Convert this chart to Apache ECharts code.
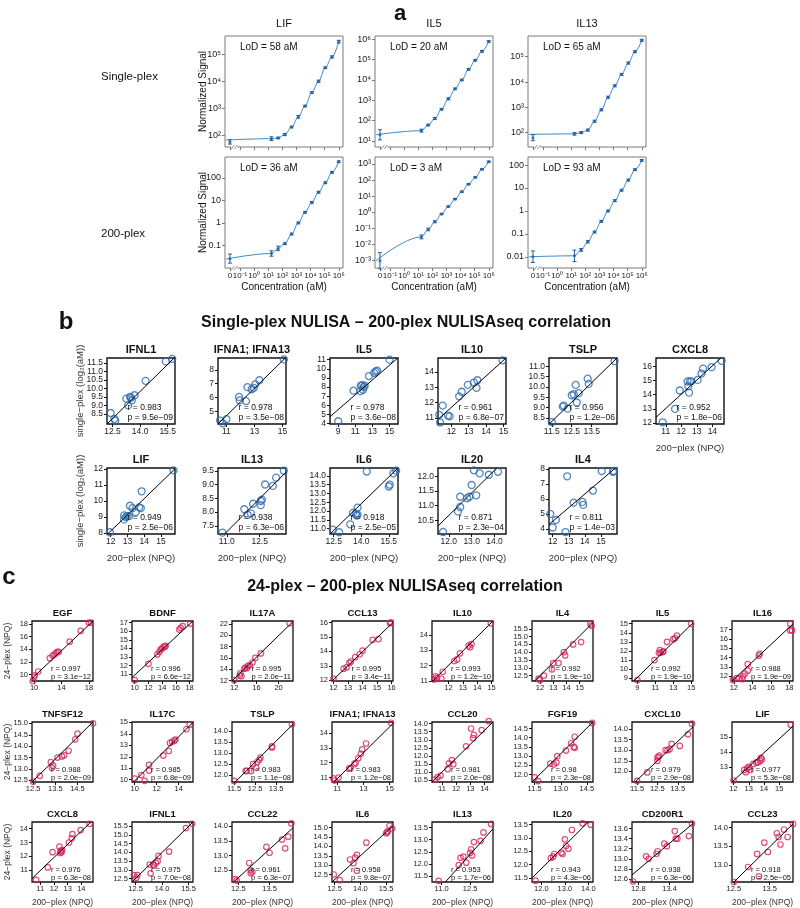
<!DOCTYPE html>
<html><head><meta charset="utf-8">
<script src="https://cdn.jsdelivr.net/npm/echarts@6/dist/echarts.min.js"></script>
<style>html,body{margin:0;padding:0;background:#fff}#c{width:800px;height:908px}</style>
</head><body><div id="c"></div>
<script>
const FONT = '"Liberation Sans", Arial, Helvetica, sans-serif';

// ================= Panel a data =================
const concA = [0, 17, 51, 152, 457, 1372, 4115, 12346, 37037, 111111, 333333, 1000000]; // aM
const aTargets = ['LIF', 'IL5', 'IL13'];
const aRows = ['Single-plex', '200-plex'];
const aLoD = [['LoD = 58 aM', 'LoD = 20 aM', 'LoD = 65 aM'], ['LoD = 36 aM', 'LoD = 3 aM', 'LoD = 93 aM']];
const sigLIF1 = [56, 74, 79, 105, 200, 480, 1200, 3800, 10000, 32000, 80000, 295000];
const sigIL5_1 = [20, 32, 60, 126, 363, 1175, 3630, 10000, 33000, 93000, 257000, 776000];
const sigIL13_1 = [63, 89, 100, 126, 282, 794, 2512, 7079, 19953, 56234, 158489, 446684];
const sigLIF200 = [0.026, 0.044, 0.074, 0.12, 0.32, 1.0, 2.95, 8.1, 23, 60, 174, 513];
const sigIL5_200 = [0.001, 0.030, 0.087, 0.26, 0.79, 2.3, 6.6, 19, 56, 148, 468, 1380];
const sigIL13_200 = [0.01, 0.011, 0.02, 0.045, 0.12, 0.35, 1.0, 2.8, 8, 22, 63, 160];
// error half-widths (log10 units)
const errLIF1 = [0.08, 0.07, 0.03, 0.04, 0.03, 0.05, 0.03, 0.03, 0.04, 0.03, 0.04, 0.05];
const errIL5_1 = [0.25, 0.07, 0.04, 0.05, 0.04, 0.05, 0.04, 0.04, 0.04, 0.04, 0.04, 0.04];
const errIL13_1 = [0.12, 0.05, 0.04, 0.04, 0.04, 0.04, 0.04, 0.04, 0.04, 0.04, 0.04, 0.04];
const errLIF200 = [0.2, 0.12, 0.1, 0.04, 0.04, 0.04, 0.04, 0.04, 0.04, 0.04, 0.04, 0.04];
const errIL5_200 = [0.5, 0.12, 0.08, 0.06, 0.04, 0.04, 0.04, 0.04, 0.04, 0.04, 0.04, 0.04];
const errIL13_200 = [0.25, 0.25, 0.06, 0.05, 0.04, 0.04, 0.04, 0.04, 0.04, 0.04, 0.04, 0.04];
// fitted-curve baseline (signal at the far left of the axis)
const curveBase = [[66, 20, 85], [0.025, 0.001, 0.01]];
// y tick exponents
const ytLIF1 = [2, 3, 4, 5], ytIL5_1 = [1, 2, 3, 4, 5, 6], ytIL13_1 = [2, 3, 4, 5];
const ytLIF200 = [-1, 0, 1, 2], ytIL5_200 = [-3, -2, -1, 0, 1, 2, 3], ytIL13_200 = [-2, -1, 0, 1, 2];
const xtExpA = [-1, 0, 1, 2, 3, 4, 5, 6];

// ================= Panel b data =================
const bNames = ['IFNL1', 'IFNA1; IFNA13', 'IL5', 'IL10', 'TSLP', 'CXCL8', 'LIF', 'IL13', 'IL6', 'IL20', 'IL4'];
const bR = ['0.983', '0.978', '0.978', '0.961', '0.956', '0.952', '0.949', '0.938', '0.918', '0.871', '0.811'];
const bP = ['9.5e\u221209', '3.5e\u221208', '3.6e\u221208', '6.8e\u221207', '1.2e\u221206', '1.8e\u221206', '2.5e\u221206', '6.3e\u221206', '2.5e\u221205', '2.3e\u221204', '1.4e\u221203'];
const b_IFNL1 = [[12.4,8.55],[12.6,8.2],[12.65,8.1],[13.25,9.4],[13.35,9.0],[13.45,9.5],[13.5,9.45],[13.55,9.3],[13.7,9.6],[14.3,10.45],[15.4,11.6],[15.75,11.75]];
const b_IFNA = [[10.55,4.35],[10.75,4.15],[11.0,4.45],[11.9,6.05],[11.95,5.8],[12.4,5.75],[12.5,6.75],[12.8,6.6],[12.95,6.7],[13.05,6.95],[13.35,7.25],[15.1,8.75]];
const b_IL5 = [[9.0,4.25],[10.8,7.6],[11.6,7.55],[11.65,8.15],[11.8,8.2],[11.9,7.7],[12.0,8.0],[12.1,8.15],[12.6,9.2],[13.2,9.55],[13.4,9.7],[13.55,9.8],[15.0,11.0]];
const b_IL10 = [[11.3,11.2],[11.35,10.7],[11.5,11.8],[11.8,11.15],[11.9,11.1],[12.45,12.4],[12.6,12.7],[12.95,13.15],[13.3,13.3],[13.45,12.95],[13.5,13.45],[14.95,14.75]];
const b_TSLP = [[11.5,8.3],[12.05,9.05],[12.1,9.1],[12.3,8.95],[12.5,9.6],[12.6,9.65],[12.7,10.1],[12.75,9.25],[12.85,9.7],[13.3,10.4],[13.35,10.15],[14.65,11.25]];
const b_CXCL8 = [[10.8,12.05],[11.6,13.0],[11.9,14.3],[12.4,14.95],[12.45,14.6],[12.5,14.15],[12.55,14.95],[12.65,14.95],[13.05,15.05],[13.3,15.5],[13.4,15.85],[13.95,15.95],[14.6,16.4]];
const b_LIF = [[11.95,8.05],[12.8,8.85],[12.8,9.1],[12.9,9.0],[13.0,9.05],[13.1,9.05],[13.15,9.7],[13.3,9.55],[13.5,9.3],[13.7,9.6],[13.8,9.55],[13.85,10.6],[15.75,11.9]];
const b_IL13 = [[10.8,7.25],[11.8,8.1],[11.95,7.9],[12.1,7.95],[12.2,8.3],[12.55,8.4],[12.6,8.45],[12.55,8.25],[12.75,9.0],[13.1,8.95],[13.25,9.25],[13.6,9.5]];
const b_IL6 = [[12.45,10.95],[12.8,10.8],[13.4,11.25],[13.55,11.9],[13.7,11.85],[13.75,11.75],[13.8,12.2],[13.8,11.8],[14.3,14.25],[15.5,13.4],[15.55,13.5],[15.75,14.15],[15.9,14.3]];
const b_IL20 = [[11.75,10.1],[12.4,10.8],[12.5,10.95],[12.5,11.3],[12.8,11.25],[12.9,11.3],[13.0,11.7],[13.1,12.2],[13.2,11.35],[13.35,12.1],[13.75,12.05],[14.15,12.15]];
const b_IL4 = [[11.85,5.0],[12.0,4.1],[12.2,4.6],[12.8,3.8],[12.9,7.5],[13.3,5.75],[13.85,5.8],[13.9,5.6],[14.5,6.55],[15.05,7.85],[15.75,7.8],[15.8,7.85]];
const bPts = [b_IFNL1, b_IFNA, b_IL5, b_IL10, b_TSLP, b_CXCL8, b_LIF, b_IL13, b_IL6, b_IL20, b_IL4];
const bXRange = [[12.2,15.9],[10.4,15.25],[8.04,16.0],[11.23,15.15],[11.36,14.77],[10.37,14.75],[11.78,15.84],[10.6,13.7],[12.3,16.0],[11.53,14.5],[11.77,16.0]];
const bYRange = [[7.9,11.8],[4.1,8.85],[3.95,11.18],[10.6,14.9],[8.21,11.4],[11.93,16.6],[7.94,12.05],[7.2,9.6],[10.7,14.45],[10.03,12.28],[3.67,8.05]];
const bXTicks = [['12.5','14.0','15.5'],['11','13','15'],['9','11','13','15'],['12','13','14','15'],['11.5','12.5','13.5'],['11','12','13','14'],['12','13','14','15'],['11.0','12.5'],['12.5','14.0','15.5'],['12.0','13.0','14.0'],['12','13','14','15']];
const bYTicks = [['8.5','9.0','9.5','10.0','10.5','11.0','11.5'],['5','6','7','8'],['4','5','6','7','8','9','10','11'],['11','12','13','14'],['8.5','9.0','9.5','10.0','10.5','11.0'],['12','13','14','15','16'],['8','9','10','11','12'],['7.5','8.0','8.5','9.0','9.5'],['11.0','11.5','12.0','12.5','13.0','13.5','14.0'],['10.5','11.0','11.5','12.0'],['4','5','6','7','8']];
const bFit = [[[12.2,7.9],[15.9,11.85]],[[10.4,4.1],[15.25,8.9]],[[8.04,4.75],[16.0,11.2]],[[11.23,10.9],[15.15,14.9]],[[11.36,8.2],[14.77,11.4]],[[10.37,12.4],[14.55,16.6]],[[11.78,7.9],[15.84,12.0]],[[10.9,7.2],[13.7,9.45]],[[12.3,10.7],[16.0,14.45]],[[11.53,10.3],[14.1,12.28]],[[11.77,4.3],[15.9,8.05]]];

// ================= Panel c data =================
const cNames = ['EGF','BDNF','IL17A','CCL13','IL10','IL4','IL5','IL16','TNFSF12','IL17C','TSLP','IFNA1; IFNA13','CCL20','FGF19','CXCL10','LIF','CXCL8','IFNL1','CCL22','IL6','IL13','IL20','CD200R1','CCL23'];
const cR = ['0.997','0.996','0.995','0.995','0.993','0.992','0.992','0.988','0.988','0.985','0.983','0.983','0.981','0.98','0.979','0.977','0.976','0.975','0.961','0.958','0.953','0.943','0.938','0.918'];
const cP = ['3.1e\u221212','6.6e\u221212','2.0e\u221211','3.4e\u221211','1.2e\u221210','1.9e\u221210','1.9e\u221210','1.9e\u221209','2.0e\u221209','6.8e\u221209','1.1e\u221208','1.2e\u221208','2.0e\u221208','2.3e\u221208','2.9e\u221208','5.3e\u221208','6.3e\u221208','7.0e\u221208','6.3e\u221207','9.8e\u221207','1.7e\u221206','4.3e\u221206','6.3e\u221206','2.5e\u221205'];
const c_EGF = [[9.8,9.0],[10.0,9.6],[10.1,9.9],[10.6,10.5],[12.3,12.6],[12.7,13.0],[13.0,13.2],[13.2,13.4],[13.4,13.6],[13.6,13.6],[15.2,15.2],[16.8,16.9],[18.0,18.2],[18.3,18.2]];
const c_BDNF = [[10.0,10.3],[12.0,12.2],[13.3,13.3],[13.6,13.6],[13.8,13.9],[14.0,14.0],[14.2,14.2],[14.4,14.2],[14.5,14.3],[16.5,16.2],[16.7,16.4],[17.0,16.6],[18.1,16.9]];
const c_IL17A = [[12.0,12.1],[13.0,12.9],[13.1,13.3],[13.3,12.8],[13.8,14.1],[14.0,14.3],[14.3,14.2],[14.5,14.6],[14.8,14.7],[15.3,15.2],[15.8,16.0],[16.8,16.8],[22.0,22.1]];
const c_CCL13 = [[12.0,12.1],[12.7,12.8],[12.9,12.9],[13.1,13.2],[13.2,13.3],[13.5,13.6],[13.8,13.8],[14.0,14.05],[14.7,14.8],[15.1,14.85],[15.9,15.95],[15.95,16.0]];
const c_IL10 = [[11.0,11.1],[11.1,11.3],[11.2,11.2],[11.5,11.15],[11.6,11.6],[12.4,12.3],[12.6,12.4],[12.8,12.8],[13.4,13.3],[13.5,13.2],[13.6,13.4],[14.95,14.75]];
const c_IL4 = [[11.9,12.3],[12.0,12.2],[12.3,12.5],[12.9,12.9],[13.0,13.3],[13.4,13.3],[13.8,14.0],[13.9,13.8],[14.5,14.5],[15.1,14.65],[15.8,15.8],[15.9,15.7]];
const c_IL5 = [[9.0,8.8],[10.9,11.0],[11.4,11.8],[11.5,12.1],[11.6,11.8],[11.8,11.9],[11.9,11.95],[12.3,13.0],[13.0,13.3],[13.2,13.4],[13.4,13.7],[15.0,15.0]];
const c_IL16 = [[11.9,11.6],[12.3,11.8],[12.6,11.8],[12.9,11.7],[13.0,12.0],[13.2,12.3],[13.5,12.6],[13.5,13.3],[14.7,14.2],[14.8,14.4],[18.1,17.6],[18.1,16.9],[18.3,16.9]];
const c_TNFSF12 = [[12.5,12.45],[12.8,12.7],[13.3,13.3],[13.35,13.05],[13.4,13.15],[13.6,13.5],[13.8,13.55],[13.9,13.6],[14.1,13.8],[14.4,14.3],[14.5,14.55],[15.2,15.0]];
const c_IL17C = [[10.0,10.1],[10.6,10.4],[10.9,9.9],[11.3,11.3],[11.3,10.8],[12.6,12.1],[13.1,12.5],[13.2,13.2],[13.4,13.3],[13.6,13.4],[13.7,13.5],[14.7,14.4],[15.0,14.8]];
const c_TSLP = [[11.5,11.75],[12.05,12.2],[12.1,12.2],[12.3,12.2],[12.4,12.5],[12.55,12.35],[12.6,12.6],[12.7,12.7],[12.75,12.8],[13.3,13.3],[13.3,13.25],[14.25,14.3]];
const c_IFNA = [[10.7,10.95],[10.8,10.8],[11.1,11.0],[11.9,11.6],[12.0,11.65],[12.3,11.9],[12.4,12.0],[12.6,12.3],[12.8,12.6],[12.9,12.9],[13.2,13.3],[15.1,14.7]];
const c_CCL20 = [[10.5,10.55],[10.7,10.7],[10.9,10.8],[11.4,11.2],[11.5,11.55],[11.7,11.75],[11.8,11.5],[12.7,12.6],[13.05,13.7],[13.2,13.1],[13.25,13.3],[13.8,13.6],[14.3,14.15]];
const c_FGF19 = [[11.5,11.85],[11.7,11.65],[12.4,12.6],[12.6,12.55],[12.75,12.65],[12.8,13.0],[13.3,13.3],[13.6,13.7],[13.75,13.5],[13.8,14.05],[13.8,13.45],[14.8,14.8]];
const c_CXCL10 = [[11.5,11.55],[12.0,11.95],[12.5,12.5],[12.5,12.65],[12.55,12.7],[12.6,12.75],[12.9,13.0],[13.0,13.0],[13.1,13.05],[13.2,13.3],[13.6,13.2],[14.0,13.75],[14.2,14.25]];
const c_LIF = [[12.0,12.1],[12.7,12.8],[12.8,12.65],[12.9,12.9],[13.0,13.0],[13.1,12.8],[13.3,13.2],[13.5,13.3],[13.6,13.3],[13.75,13.4],[13.8,13.6],[13.85,13.5],[15.75,15.8]];
const c_CXCL8 = [[10.7,10.3],[11.55,11.2],[11.9,12.3],[12.4,12.7],[12.45,12.25],[12.5,12.4],[12.55,12.3],[12.6,12.45],[13.1,13.0],[13.3,13.3],[13.35,13.6],[13.95,13.9],[14.6,14.35]];
const c_IFNL1 = [[12.4,12.7],[12.55,12.55],[12.6,12.7],[13.3,13.3],[13.35,12.8],[13.5,13.3],[13.55,13.25],[13.65,13.4],[13.75,13.5],[13.8,13.8],[14.4,14.05],[15.35,15.4],[15.7,15.65]];
const c_CCL22 = [[12.4,12.2],[12.45,12.15],[12.85,12.75],[12.9,12.5],[12.95,12.45],[12.9,12.4],[13.4,13.3],[13.5,13.1],[13.9,13.55],[14.0,13.25],[14.1,13.65],[14.2,14.1]];
const c_IL6 = [[12.45,12.5],[12.8,12.2],[13.4,13.3],[13.6,13.1],[13.7,13.4],[13.8,13.55],[13.8,12.7],[14.35,14.2],[15.5,14.7],[15.55,14.75],[15.6,14.8],[15.7,15.1],[15.85,14.95]];
const c_IL13 = [[10.85,11.3],[11.9,11.95],[12.0,12.25],[12.15,12.3],[12.3,12.05],[12.5,12.45],[12.55,12.6],[12.6,12.35],[12.7,12.9],[13.05,12.95],[13.2,13.3],[13.6,13.65]];
const c_IL20 = [[11.75,11.4],[12.4,12.25],[12.5,12.3],[12.55,12.4],[12.85,12.45],[12.9,12.4],[13.0,12.95],[13.05,12.7],[13.15,12.6],[13.3,13.3],[13.75,13.55],[14.1,13.5]];
const c_CD200R1 = [[12.7,12.55],[12.95,13.05],[13.0,13.0],[13.15,13.1],[13.17,13.15],[13.3,13.3],[13.35,13.25],[13.5,13.55],[13.52,13.4],[13.55,13.4],[13.77,13.45],[13.83,13.7]];
const c_CCL23 = [[12.5,12.55],[12.9,12.95],[13.15,13.3],[13.2,12.7],[13.35,13.6],[13.45,13.35],[13.7,13.85],[13.75,13.75],[13.8,13.55],[13.9,13.95],[14.0,13.75],[14.15,14.1]];
const cPts = [c_EGF,c_BDNF,c_IL17A,c_CCL13,c_IL10,c_IL4,c_IL5,c_IL16,c_TNFSF12,c_IL17C,c_TSLP,c_IFNA,c_CCL20,c_FGF19,c_CXCL10,c_LIF,c_CXCL8,c_IFNL1,c_CCL22,c_IL6,c_IL13,c_IL20,c_CD200R1,c_CCL23];
const cXRange = [[9.7,18.6],[9.6,18.5],[11.6,22.6],[11.9,16.1],[10.85,15.1],[11.4,16.0],[8.4,15.2],[11.8,18.4],[12.45,15.2],[9.75,15.3],[11.4,14.3],[10.6,15.25],[10.3,14.6],[11.35,14.85],[11.25,14.25],[11.9,15.9],[10.4,14.85],[12.3,15.75],[12.3,14.25],[12.35,15.9],[10.5,13.7],[11.6,14.2],[12.68,13.85],[12.45,14.15]];
const cYRange = [[9.0,18.45],[10.2,17.2],[11.95,22.5],[11.95,16.1],[11.0,14.9],[12.15,16.0],[8.7,15.3],[11.5,17.9],[12.43,15.06],[9.8,15.03],[11.7,14.4],[10.7,14.75],[10.4,14.1],[11.6,14.85],[11.5,14.33],[12.0,15.98],[10.15,14.48],[12.3,15.75],[12.1,14.15],[12.1,15.3],[11.25,13.73],[11.35,13.6],[12.54,13.73],[12.55,14.15]];
const cXTicks = [['10','14','18'],['10','12','14','16','18'],['12','16','20'],['12','13','14','15','16'],['12','13','14','15'],['12','13','14','15'],['9','11','13','15'],['12','14','16','18'],['12.5','13.5','14.5'],['10','12','14'],['11.5','12.5','13.5'],['11','13','15'],['11','12','13','14'],['11.5','13.0','14.5'],['11.5','12.5','13.5'],['12','13','14','15'],['11','12','13','14'],['12.5','14.0','15.5'],['12.5','13.5'],['12.5','14.0','15.5'],['11.0','12.5'],['12.0','13.0','14.0'],['12.8','13.4'],['12.5','13.5']];
const cYTicks = [['10','12','14','16','18'],['11','12','13','14','15','16','17'],['12','14','16','18','20','22'],['12','13','14','15','16'],['11','12','13','14'],['12.5','13.0','13.5','14.0','14.5','15.0','15.5'],['9','10','11','12','13','14','15'],['12','13','14','15','16','17'],['12.5','13.0','13.5','14.0','14.5','15.0'],['10','11','12','13','14','15'],['12.0','12.5','13.0','13.5','14.0'],['11','12','13','14'],['10.5','11.0','11.5','12.0','12.5','13.0','13.5','14.0'],['12.0','12.5','13.0','13.5','14.0','14.5'],['12.0','12.5','13.0','13.5','14.0'],['13','14','15'],['11','12','13','14'],['12.5','13.0','13.5','14.0','14.5','15.0','15.5'],['12.5','13.0','13.5','14.0'],['12.5','13.0','13.5','14.0','14.5','15.0'],['11.5','12.0','12.5','13.0','13.5'],['11.5','12.0','12.5','13.0','13.5'],['12.6','12.8','13.0','13.2','13.4','13.6'],['13.0','13.5','14.0']];
const cFit = [[[9.7,9.4],[18.6,18.45]],[[9.6,10.6],[18.5,17.2]],[[11.6,11.95],[22.6,22.4]],[[11.9,11.95],[16.1,16.0]],[[10.85,10.95],[15.1,14.9]],[[11.6,12.15],[16.0,15.9]],[[8.6,8.7],[15.2,15.1]],[[11.8,11.5],[18.4,17.6]],[[12.45,12.43],[15.2,15.06]],[[9.9,9.8],[15.3,15.0]],[[11.55,11.7],[14.3,14.3]],[[10.75,10.7],[15.25,14.65]],[[10.3,10.4],[14.6,14.1]],[[11.35,11.6],[14.85,14.85]],[[11.4,11.5],[14.25,14.1]],[[11.9,12.0],[15.9,15.7]],[[10.4,10.4],[14.7,14.48]],[[12.3,12.3],[15.75,15.75]],[[12.35,12.1],[14.25,13.95]],[[12.35,12.1],[15.9,15.1]],[[11.2,11.25],[13.7,13.45]],[[11.6,11.5],[14.0,13.6]],[[12.68,12.68],[13.85,13.7]],[[12.45,12.5],[14.15,14.1]]];

// ================= builders =================
const grids = [], xAxes = [], yAxes = [], series = [], graphics = [];
const mctx = document.createElement('canvas').getContext('2d');
function tw(s, font) { mctx.font = font; return mctx.measureText(s).width; }
function txt(x, y, s, size, opt) {
  opt = opt || {};
  graphics.push({
    type: 'text', x: x, y: y, rotation: opt.rot || 0, silent: true, z: 100,
    style: { text: s, fill: opt.color || '#111', font: (opt.bold ? 'bold ' : '') + size + 'px ' + FONT,
      align: opt.align || 'center', verticalAlign: opt.va || 'middle' }
  });
}
function decOf(arr) { let d = 0; arr.forEach(s => { const i = s.indexOf('.'); if (i >= 0) d = Math.max(d, s.length - i - 1); }); return d; }
const AXLINE = { show: false, onZero: false };
function lab(vals, fmt, fs, show) {
  return { show: show !== false, interval: 0, customValues: vals, formatter: fmt, fontSize: fs, hideOverlap: false,
    showMinLabel: true, showMaxLabel: true, color: '#222', margin: 4, fontFamily: FONT };
}
function tick(vals, color) { return { show: true, interval: 0, customValues: vals, length: 3, lineStyle: { color: color, width: 1 } }; }
// adds a y axis pair (alternate labels split over two overlaid axes so that none is dropped); returns first index
function addY(gi, yr, vals, fmt, fs, color) {
  const idx = yAxes.length;
  [0, 1].forEach(k => {
    const sub = vals.filter((v, i) => i % 2 === k);
    yAxes.push({ gridIndex: gi, type: 'value', min: yr[0], max: yr[1], position: 'left', offset: 0,
      axisLine: AXLINE, splitLine: { show: false },
      axisTick: tick(sub, color), axisLabel: lab(sub, fmt, fs) });
  });
  return idx;
}

function scatterPanel(box, pts, xr, yr, xt, yt, fit, name, r, p, color, sty) {
  const gi = grids.length;
  grids.push({ left: box[0], top: box[1], width: box[2], height: box[3], show: true,
    borderColor: '#111', borderWidth: sty.bw, backgroundColor: 'rgba(0,0,0,0)' });
  const xd = decOf(xt), yd = decOf(yt);
  const xl = lab(xt.map(Number), v => v.toFixed(xd), sty.fs); xl.margin = 3;
  xAxes.push({ gridIndex: gi, type: 'value', min: xr[0], max: xr[1], axisLine: AXLINE, splitLine: { show: false },
    axisTick: tick(xt.map(Number), '#111'), axisLabel: xl });
  const yi = addY(gi, yr, yt.map(Number), v => v.toFixed(yd), sty.fs, '#111');
  series.push({ type: 'line', xAxisIndex: gi, yAxisIndex: yi, data: fit, symbol: 'none', silent: true, clip: true,
    lineStyle: { color: '#000', width: 1 }, z: 4 });
  series.push({ type: 'scatter', xAxisIndex: gi, yAxisIndex: yi, data: pts, symbol: 'circle', symbolSize: sty.ss, silent: true, clip: false,
    itemStyle: { color: 'rgba(0,0,0,0)', borderColor: color, borderWidth: sty.sw }, z: 3 });
  txt(box[0] + box[2] / 2, box[1] - sty.tOff, name, sty.tfs, { bold: true });
  const f = sty.fs + 'px ' + FONT;
  const ps = 'p = ' + p;
  const lx = box[0] + box[2] - 2 - tw(ps, f);
  txt(lx, box[1] + box[3] - sty.rOff, 'r = ' + r, sty.fs, { align: 'left' });
  txt(lx, box[1] + box[3] - sty.pOff, ps, sty.fs, { align: 'left' });
}

// ---- Panel a ----
const SUP = { '-': '\u207B', '0': '\u2070', '1': '\u00B9', '2': '\u00B2', '3': '\u00B3', '4': '\u2074', '5': '\u2075', '6': '\u2076', '7': '\u2077', '8': '\u2078', '9': '\u2079' };
function pow10(e) { return '10' + String(e).split('').map(c => SUP[c]).join(''); }
function decLab(e) { return e < 0 ? (1 / Math.pow(10, -e)).toFixed(-e) : String(Math.pow(10, e)); }
const ZERO_U = -1.71, XMIN_A = -2.06, XMAX_A = 6.3, CURVE_START = 0.01;
const uOf = c => c === 0 ? ZERO_U : Math.log10(c);
const aCols = [225, 375, 528], aTops = [36, 157], aW = 118, aH = 111;
const aSig = [[sigLIF1, sigIL5_1, sigIL13_1], [sigLIF200, sigIL5_200, sigIL13_200]];
const aErr = [[errLIF1, errIL5_1, errIL13_1], [errLIF200, errIL5_200, errIL13_200]];
const aYR = [[[1.56, 5.68], [0.7, 6.16], [1.43, 5.82]], [[-2.0, 2.92], [-3.45, 3.43], [-2.49, 2.35]]];
const aYT = [[ytLIF1, ytIL5_1, ytIL13_1], [ytLIF200, ytIL5_200, ytIL13_200]];
const aYFmt = [['sup', 'sup', 'sup'], ['dec', 'sup', 'dec']];
const A_LINE = '#3f88c5', A_PT = '#1d5fa3', A_GRAY = '#7a7a7a';

for (let r = 0; r < 2; r++) for (let c = 0; c < 3; c++) {
  const gi = grids.length, left = aCols[c], top = aTops[r];
  grids.push({ left: left, top: top, width: aW, height: aH, show: true, borderColor: A_GRAY, borderWidth: 1, backgroundColor: 'rgba(0,0,0,0)' });
  const xt = [ZERO_U].concat(xtExpA);
  xAxes.push({ gridIndex: gi, type: 'value', min: XMIN_A, max: XMAX_A, axisLine: AXLINE, splitLine: { show: false },
    axisTick: tick(xt, A_GRAY), axisLabel: lab(xt, v => (v < -1.5 ? '0' : pow10(Math.round(v))), 8, r === 1) });
  const fmt = aYFmt[r][c];
  const yi = addY(gi, aYR[r][c], aYT[r][c], v => (fmt === 'sup' ? pow10(Math.round(v)) : decLab(Math.round(v))), 9, A_GRAY);
  const sig = aSig[r][c], err = aErr[r][c];
  const pts = concA.map((cc, i) => [uOf(cc), Math.log10(sig[i])]);
  const curve = [[Math.log10(CURVE_START), Math.log10(curveBase[r][c])]].concat(concA.slice(1).map((cc, i) => [Math.log10(cc), Math.log10(sig[i + 1])]));
  series.push({ type: 'line', xAxisIndex: gi, yAxisIndex: yi, data: curve, symbol: 'none', smooth: 0.35, smoothMonotone: 'x', silent: true, clip: true,
    lineStyle: { color: A_LINE, width: 1 }, z: 2 });
  series.push({ type: 'custom', xAxisIndex: gi, yAxisIndex: yi, silent: true, z: 3,
    data: pts.map((p, i) => [p[0], p[1], p[1] - err[i], p[1] + err[i]]),
    renderItem: function (params, api) {
      const lo = api.coord([api.value(0), api.value(2)]), hi = api.coord([api.value(0), api.value(3)]);
      const st = { stroke: A_PT, lineWidth: 1 };
      return { type: 'group', children: [
        { type: 'line', shape: { x1: lo[0], y1: lo[1], x2: hi[0], y2: hi[1] }, style: st },
        { type: 'line', shape: { x1: lo[0] - 2, y1: lo[1], x2: lo[0] + 2, y2: lo[1] }, style: st },
        { type: 'line', shape: { x1: hi[0] - 2, y1: hi[1], x2: hi[0] + 2, y2: hi[1] }, style: st }
      ] };
    } });
  series.push({ type: 'scatter', xAxisIndex: gi, yAxisIndex: yi, data: pts, symbol: 'circle', symbolSize: 3, silent: true, clip: false,
    itemStyle: { color: A_PT }, z: 4 });
  // axis break marks "//"
  const bx = left + ((-1.4) - XMIN_A) / (XMAX_A - XMIN_A) * aW, by = top + aH;
  graphics.push({ type: 'rect', silent: true, z: 90, shape: { x: bx - 3, y: by - 2, width: 6, height: 4 }, style: { fill: '#fff' } });
  [-1.5, 1.5].forEach(d => graphics.push({ type: 'line', silent: true, z: 91, shape: { x1: bx + d - 1.5, y1: by + 2, x2: bx + d + 1.5, y2: by - 2 }, style: { stroke: A_GRAY, lineWidth: 0.8 } }));
  txt(left + 15, top + 11, aLoD[r][c], 10, { align: 'left' });
  if (r === 1) txt(left + aW / 2, 287, 'Concentration (aM)', 10);
}
txt(203, aTops[0] + aH / 2, 'Normalized Signal', 10, { rot: Math.PI / 2 });
txt(203, aTops[1] + aH / 2, 'Normalized Signal', 10, { rot: Math.PI / 2 });
aTargets.forEach((t, c) => txt(aCols[c] + aW / 2, 24, t, 11));
txt(101, 77, aRows[0], 11.5, { align: 'left' });
txt(101, 234, aRows[1], 11.5, { align: 'left' });
txt(400, 14, 'a', 22, { bold: true });

// ---- Panel b ----
const bLefts = [107, 218, 330, 438, 549, 656], bTops = [358, 468], bW = 68, bH = 66;
const bSty = { bw: 1.4, fs: 8.5, ss: 7, sw: 1.3, tfs: 11, tOff: 8, rOff: 16, pOff: 6 };
const B_COL = '#2b6cb0';
for (let i = 0; i < bNames.length; i++) {
  const row = i < 6 ? 0 : 1, col = i < 6 ? i : i - 6;
  const box = [bLefts[col], bTops[row], bW, bH];
  scatterPanel(box, bPts[i], bXRange[i], bYRange[i], bXTicks[i], bYTicks[i], bFit[i], bNames[i], bR[i], bP[i], B_COL, bSty);
  if (row === 1 || col === 5) txt(box[0] + bW / 2, box[1] + bH + 24, '200\u2212plex (NPQ)', 9.5, { color: '#333' });
}
txt(80, bTops[0] + bH / 2, 'single\u2212plex (log\u2082(aM))', 9.5, { rot: Math.PI / 2, color: '#333' });
txt(80, bTops[1] + bH / 2, 'single\u2212plex (log\u2082(aM))', 9.5, { rot: Math.PI / 2, color: '#333' });
txt(406, 323, 'Single-plex NULISA \u2013 200-plex NULISAseq correlation', 16, { bold: true });
txt(66, 322, 'b', 24, { bold: true });

// ---- Panel c ----
const cTops = [621, 722, 822], cW = 61, cH = 60;
const cSty = { bw: 1.3, fs: 7.5, ss: 5.5, sw: 1.2, tfs: 9.5, tOff: 8, rOff: 12.5, pOff: 4 };
const C_COL = '#d7265b';
for (let i = 0; i < cNames.length; i++) {
  const row = Math.floor(i / 8), col = i % 8;
  const box = [32 + 100 * col, cTops[row], cW, cH];
  scatterPanel(box, cPts[i], cXRange[i], cYRange[i], cXTicks[i], cYTicks[i], cFit[i], cNames[i], cR[i], cP[i], C_COL, cSty);
  if (row === 2) txt(box[0] + cW / 2, box[1] + cH + 21, '200\u2212plex (NPQ)', 8.5, { color: '#333' });
}
cTops.forEach(t => txt(8, t + cH / 2, '24\u2212plex (NPQ)', 8.5, { rot: Math.PI / 2, color: '#333' }));
txt(405, 587, '24-plex \u2013 200-plex NULISAseq correlation', 16, { bold: true });
txt(9, 577, 'c', 24, { bold: true });

const chart = echarts.init(document.getElementById('c'), null, { renderer: 'canvas' });
chart.setOption({ animation: false, backgroundColor: '#fff', textStyle: { fontFamily: FONT },
  grid: grids, xAxis: xAxes, yAxis: yAxes, series: series, graphic: graphics });
</script></body></html>
